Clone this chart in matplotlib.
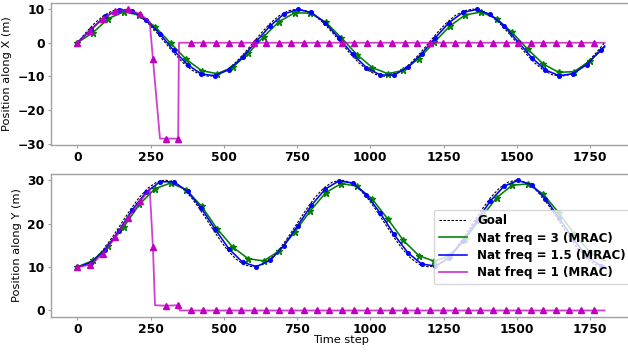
#!/usr/bin/env python3
"""
Position tracking plot: goal trajectory vs MRAC controllers with different natural frequencies.
"""

import matplotlib
matplotlib.use('Agg')
import matplotlib.pyplot as plt

# Goal trajectory (sampled every 30 steps)
goal_t = [0, 30, 60, 90, 120, 150, 180, 210, 240, 270, 300, 330, 360, 390, 420, 450, 480, 510, 540, 570,
          600, 630, 660, 690, 720, 750, 780, 810, 840, 870, 900, 930, 960, 990, 1020, 1050, 1080, 1110, 1140, 1170,
          1200, 1230, 1260, 1290, 1320, 1350, 1380, 1410, 1440, 1470, 1500, 1530, 1560, 1590, 1620, 1650, 1680, 1710, 1740, 1770,
          1800]
goal_x = [0, 3.1, 5.9, 8.1, 9.5, 10, 9.5, 8.1, 5.9, 3.1, 0, -3.1, -5.9, -8.1, -9.5, -10, -9.5, -8.1, -5.9, -3.1,
          0, 3.1, 5.9, 8.1, 9.5, 10, 9.5, 8.1, 5.9, 3.1, 0, -3.1, -5.9, -8.1, -9.5, -10, -9.5, -8.1, -5.9, -3.1,
          0, 3.1, 5.9, 8.1, 9.5, 10, 9.5, 8.1, 5.9, 3.1, 0, -3.1, -5.9, -8.1, -9.5, -10, -9.5, -8.1, -5.9, -3.1,
          0]
goal_y = [10, 10.5, 11.9, 14.1, 16.9, 20, 23.1, 25.9, 28.1, 29.5, 30, 29.5, 28.1, 25.9, 23.1, 20, 16.9, 14.1, 11.9, 10.5,
          10, 10.5, 11.9, 14.1, 16.9, 20, 23.1, 25.9, 28.1, 29.5, 30, 29.5, 28.1, 25.9, 23.1, 20, 16.9, 14.1, 11.9, 10.5,
          10, 10.5, 11.9, 14.1, 16.9, 20, 23.1, 25.9, 28.1, 29.5, 30, 29.5, 28.1, 25.9, 23.1, 20, 16.9, 14.1, 11.9, 10.5,
          10]

# Nat freq = 3 (MRAC), green
green_t = [0, 53, 106, 159, 212, 265, 318, 371, 424, 477, 530, 583, 636, 689, 742, 795, 848, 901,
           954, 1007, 1060, 1113, 1166, 1219, 1272, 1325, 1378, 1431, 1484, 1537, 1590, 1643, 1696, 1749, 1800]
green_x = [0, 3.0, 7.2, 9.2, 8.2, 4.8, -0.1, -4.9, -8.3, -9.2, -7.3, -3.2, 1.8, 6.3, 8.9, 8.8, 6.1, 1.5,
           -3.5, -7.4, -9.2, -8.2, -4.7, 0.2, 5.0, 8.3, 9.1, 7.2, 3.1, -1.9, -6.3, -8.8, -8.6, -5.4, -1.3]
green_y = [10, 11.5, 14.9, 19.3, 24.4, 28.0, 29.3, 27.8, 24.0, 18.8, 14.6, 11.9, 11.4, 13.7, 18.0, 22.9, 27.1, 29.2,
           28.6, 25.6, 21.0, 16.1, 12.6, 11.3, 12.7, 16.5, 21.3, 25.9, 28.8, 29.1, 26.8, 22.5, 17.6, 13.5, 11.4]

# Nat freq = 1.5 (MRAC), blue
blue_t = [0, 47, 94, 141, 188, 235, 282, 329, 376, 423, 470, 517, 564, 611, 658, 705, 752, 799, 846, 893,
          940, 987, 1034, 1081, 1128, 1175, 1222, 1269, 1316, 1363, 1410, 1457, 1504, 1551, 1598, 1645, 1692, 1739, 1786,
          1800]
blue_x = [0, 4.0, 7.8, 9.8, 9.4, 6.8, 2.6, -2.3, -6.5, -9.3, -9.8, -8.0, -4.3, 0.4, 5.0, 8.5, 9.9, 9.0, 5.9, 1.4,
          -3.4, -7.4, -9.6, -9.6, -7.3, -3.3, 1.5, 6.0, 9.0, 9.9, 8.4, 5.0, 0.3, -4.4, -8.1, -9.8, -9.2, -6.5, -2.2,
          -1.0]
blue_y = [10, 11.0, 13.9, 18.3, 23.2, 27.2, 29.6, 29.6, 27.4, 23.5, 18.7, 14.2, 11.1, 10.1, 11.5, 14.9, 19.5, 24.2, 27.9, 29.8,
          29.3, 26.6, 22.4, 17.5, 13.3, 10.7, 10.2, 12.1, 15.9, 20.6, 25.2, 28.6, 29.9, 28.9, 25.7, 21.2, 16.5, 12.5, 10.3,
          10.1]

# Nat freq = 1 (MRAC), magenta: line corners
mag_line_tx = [0, 43, 86, 129, 172, 215, 247, 258, 282, 301, 344, 347, 1800]
mag_line_x = [0, 3.5, 7.2, 9.4, 9.9, 8.5, 6.2, -4.8, -28.5, -28.5, -28.5, 0, 0]
mag_line_ty = [0, 43, 86, 129, 172, 215, 247, 258, 265, 301, 344, 350, 1800]
mag_line_y = [10, 10.5, 12.9, 16.8, 21.2, 25.1, 28.0, 14.5, 1.2, 1.1, 1.2, 0, 0]

# magenta markers (every 43 steps)
mag_mark_t = [0, 43, 86, 129, 172, 215, 258, 301, 344, 387, 430, 473, 516, 559, 602, 645, 688, 731, 774, 817, 860,
              903, 946, 989, 1032, 1075, 1118, 1161, 1204, 1247, 1290, 1333, 1376, 1419, 1462, 1505, 1548, 1591,
              1634, 1677, 1720, 1763]
mag_mark_x = [0, 3.5, 7.2, 9.4, 9.9, 8.5, -4.8, -28.5, -28.5, 0, 0, 0, 0, 0, 0, 0, 0, 0, 0, 0, 0,
              0, 0, 0, 0, 0, 0, 0, 0, 0, 0, 0, 0, 0, 0, 0, 0, 0,
              0, 0, 0, 0]
mag_mark_y = [10, 10.5, 12.9, 16.8, 21.2, 25.1, 14.5, 1.1, 1.2, 0, 0, 0, 0, 0, 0, 0, 0, 0, 0, 0, 0,
              0, 0, 0, 0, 0, 0, 0, 0, 0, 0, 0, 0, 0, 0, 0, 0, 0,
              0, 0, 0, 0]

labels = ['Goal', 'Nat freq = 3 (MRAC)', 'Nat freq = 1.5 (MRAC)', 'Nat freq = 1 (MRAC)']

TICK_FS = 8.8
LABEL_FS = 8.2
LEGEND_FS = 8.6
SPINE_COLOR = '#a0a0a0'


def style_axes(ax):
    for side in ['left', 'bottom', 'top', 'right']:
        ax.spines[side].set_color(SPINE_COLOR)
        ax.spines[side].set_linewidth(1.0)
    ax.tick_params(axis='both', length=2.5, width=0.8, color=SPINE_COLOR, labelsize=TICK_FS, pad=2)
    for lab in ax.get_xticklabels() + ax.get_yticklabels():
        lab.set_fontweight('bold')


def plot_panel(ax, gx, gv, grv, blv, mlt, mlv, mmv):
    ax.plot(gx, gv, 'k--', linewidth=0.8, dashes=(2.2, 1.4), label=labels[0])
    ax.plot(green_t, grv, color='green', linewidth=1.15, label=labels[1])
    ax.plot(green_t[:-1], grv[:-1], '*', color='green', markersize=4.5, linestyle='none')
    ax.plot(blue_t, blv, color='blue', linewidth=1.15, label=labels[2])
    ax.plot(blue_t[:-1], blv[:-1], 'o', color='blue', markersize=2.6, linestyle='none')
    ax.plot(mlt, mlv, color='m', linewidth=1.3, alpha=0.75, label=labels[3])
    ax.plot(mag_mark_t, mmv, '^', color='m', markersize=4.6, linestyle='none')


def main():
    fig = plt.figure(figsize=(6.28, 3.52), dpi=100)
    ax1 = fig.add_axes([51 / 628, 207 / 352, 580 / 628, 142.3 / 352])
    ax2 = fig.add_axes([51 / 628, 35 / 352, 580 / 628, 143.5 / 352])

    plot_panel(ax1, goal_t, goal_x, green_x, blue_x, mag_line_tx, mag_line_x, mag_mark_x)
    plot_panel(ax2, goal_t, goal_y, green_y, blue_y, mag_line_ty, mag_line_y, mag_mark_y)

    ax1.set_xlim(-90, 1890)
    ax2.set_xlim(-90, 1890)
    ax1.set_ylim(-30.4, 11.9)
    ax2.set_ylim(-1.5, 31.5)
    ax1.set_xticks([0, 250, 500, 750, 1000, 1250, 1500, 1750])
    ax2.set_xticks([0, 250, 500, 750, 1000, 1250, 1500, 1750])
    ax1.set_yticks([-30, -20, -10, 0, 10])
    ax2.set_yticks([0, 10, 20, 30])

    ax1.set_ylabel('Position along X (m)', fontsize=LABEL_FS, labelpad=4)
    ax2.set_ylabel('Position along Y (m)', fontsize=LABEL_FS, labelpad=4)
    ax2.set_xlabel('Time step', fontsize=LABEL_FS, labelpad=-1)

    style_axes(ax1)
    style_axes(ax2)

    ax2.legend(loc='upper left', bbox_to_anchor=(0.65, 0.79), prop={'size': LEGEND_FS, 'weight': 'bold'},
               handlelength=2.4, labelspacing=0.35, borderpad=0.4, handletextpad=0.8, framealpha=0.8)

    fig.savefig('out.png', dpi=100)
    plt.close(fig)


if __name__ == "__main__":
    main()
